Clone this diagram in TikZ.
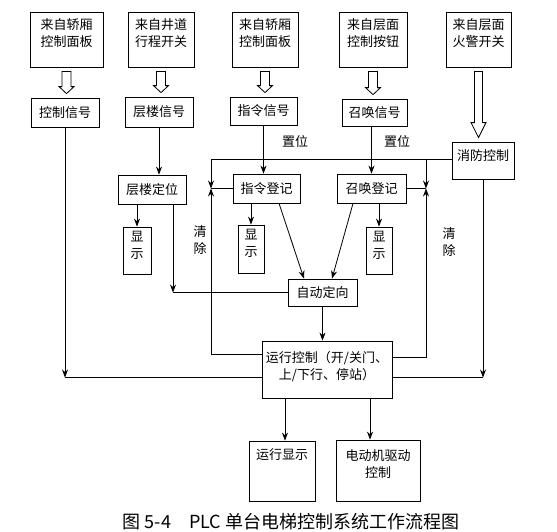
\documentclass[tikz,border=0pt]{standalone}
\usepackage{fontspec}
\setmainfont{Noto Sans CJK SC}
\usetikzlibrary{calc,positioning,arrows.meta}
\newcommand{\lowpad}[1]{\rule[-#1]{0pt}{#1}}
\newcommand{\hollowdown}[4]{%
  \draw let \p1=(#1.south), \p2=(#2.north) in
    (\x1-#4,\y1-4pt) -- (\x1-#4,\y2+#3) -- (\x1-7.5pt,\y2+#3) -- (\x1,\y2+4pt)
    -- (\x1+7.5pt,\y2+#3) -- (\x1+#4,\y2+#3) -- (\x1+#4,\y1-4pt) -- cycle;}

\begin{document}
\begin{tikzpicture}[x=1pt, y=-1pt, line width=0.8pt,
  font=\fontsize{13}{17}\selectfont,
  >={Stealth[length=8pt,width=6pt]},
  box/.style={draw, inner sep=1pt, align=center},
  sz/.style 2 args={minimum width=#1pt, minimum height=#2pt}]
\useasboundingbox (0,0) rectangle (557,531);

\node[box, sz={73}{55}] (CarPanelA) at (66.5,39.5) {来自轿厢\\控制面板\lowpad{13pt}};
\node[box, sz={66}{55}] (ShaftSwitch) at (161,39.5) {来自井道\\行程开关\lowpad{13pt}};
\node[box, sz={66}{55}] (CarPanelB) at (265,39.5) {来自轿厢\\控制面板\lowpad{13pt}};
\node[box, sz={68}{55}] (HallButton) at (373,39.5) {来自层面\\控制按钮\lowpad{13pt}};
\node[box, sz={65}{55}] (FireSwitch) at (478.5,39.5) {来自层面\\火警开关\lowpad{13pt}};

\node[box, sz={68}{29}] (CtrlSig) at (65,112.5) {控制信号};
\node[box, sz={68}{30}] (FloorSig) at (159,112) {层楼信号};
\node[box, sz={67}{28}] (CmdSig) at (263.5,111) {指令信号};
\node[box, sz={65}{27}] (CallSig) at (374.5,112.5) {召唤信号};
\node[box, sz={62}{37}] (FireCtrl) at (483,160.5) {消防控制\lowpad{11pt}};

\node[box, sz={68}{29}] (FloorPos) at (152,189.5) {层楼定位};
\node[box, sz={67}{29}] (CmdReg) at (266.5,188.5) {指令登记};
\node[box, sz={69}{29}] (CallReg) at (371.5,188.5) {召唤登记};

\node[box, sz={28}{47}] (ShowA) at (137,250.5) {显\\示\lowpad{12pt}};
\node[box, sz={26}{48}] (ShowB) at (251,249) {显\\示\lowpad{12pt}};
\node[box, sz={26}{47}] (ShowC) at (379,250.5) {显\\示\lowpad{12pt}};

\node[box, sz={69}{27}] (AutoDir) at (322.5,292.5) {自动定向};
\node[box, sz={130}{57}] (RunCtrl) at (327,369.5) {运行控制（开/关门、\\上/下行、停站）\lowpad{9pt}};
\node[box, sz={66}{60}] (RunShow) at (282,471) {运行显示\lowpad{33pt}};
\node[box, sz={84}{61}] (MotorDrive) at (378,470.5) {电动机驱动\\控制\lowpad{14pt}};

\node (SetA) at (295,141) {置位};
\node (SetB) at (397,141) {置位};
\node[align=center] (ClearA) at (200,240) {清\\除};
\node[align=center] (ClearB) at (449,242) {清\\除};
\node[font=\fontsize{18}{21}\selectfont] (Caption) at (291,522) {图 5-4\quad PLC 单台电梯控制系统工作流程图};

\coordinate (SetL) at (211,159);
\coordinate (SetR) at (426,159);
\coordinate (JoinL) at (211,188.5);
\coordinate (JoinR) at (426,188.5);
\coordinate (BackL) at (211,354);
\coordinate (BackR) at (426,357);
\coordinate (BusL) at (65,377.5);
\coordinate (BusR) at (483,377.5);
\coordinate (PosTurn) at (173,292.5);

\hollowdown{CarPanelA}{CtrlSig}{11pt}{4.5pt}
\hollowdown{ShaftSwitch}{FloorSig}{11pt}{4.5pt}
\hollowdown{CarPanelB}{CmdSig}{11pt}{4.5pt}
\hollowdown{HallButton}{CallSig}{11pt}{4.5pt}
\hollowdown{FireSwitch}{FireCtrl}{19pt}{4pt}

\draw[->] (CtrlSig) -- (BusL);
\draw (BusL) -- (RunCtrl.west |- BusL);
\draw[->] (FireCtrl) -- (BusR);
\draw (RunCtrl.east |- BusR) -- (BusR);
\draw[->] (FloorSig) -- (FloorSig |- FloorPos.north);
\draw[->] (CmdSig) -- (CmdSig |- CmdReg.north);
\draw[->] (CallSig.south -| CallReg) -- (CallReg);
\draw (SetL) -- (FireCtrl.west |- SetL);
\draw[->] (SetL) -- (JoinL);
\draw[->] (SetR) -- (JoinR);
\draw (CmdReg) -- (JoinL);
\draw (CallReg) -- (JoinR);
\draw[->] (RunCtrl.west |- BackL) -- (BackL) -- (JoinL);
\draw[->] (RunCtrl.east |- BackR) -- (BackR) -- (JoinR);
\draw[->] (ShowA |- FloorPos.south) -- (ShowA);
\draw[->] (ShowB |- CmdReg.south) -- (ShowB);
\draw[->] (ShowC |- CallReg.south) -- (ShowC);
\draw[->] (PosTurn |- FloorPos.south) -- (PosTurn);
\draw (PosTurn) -- (AutoDir);
\draw[->] ($(CmdReg.south)+(12.5,0)$) -- ($(AutoDir.north)+(-18.5,0)$);
\draw[->] ($(CallReg.south)+(-18.5,0)$) -- ($(AutoDir.north)+(9.5,0)$);
\draw[->] (AutoDir) -- (AutoDir |- RunCtrl.north);
\draw[->] ($(RunCtrl.south)+(-42,0)$) -- ($(RunShow.north)+(3,0)$);
\draw[->] ($(RunCtrl.south)+(43,0)$) -- ($(MotorDrive.north)+(-8,0)$);
\end{tikzpicture}
\end{document}
